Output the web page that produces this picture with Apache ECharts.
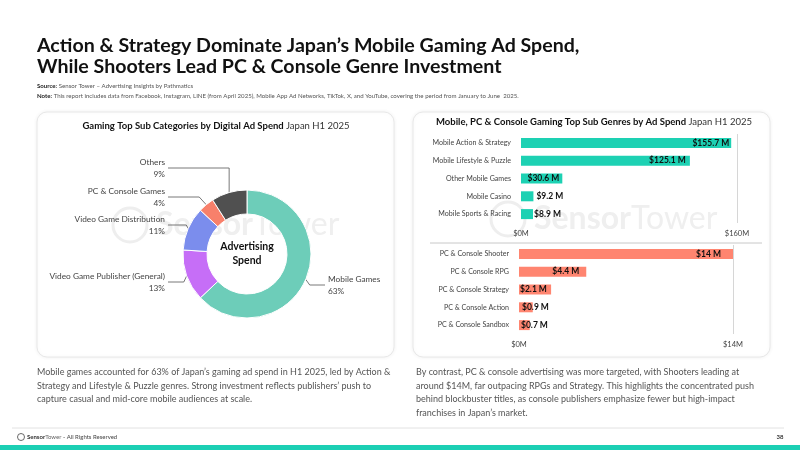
<!DOCTYPE html>
<html>
<head>
<meta charset="utf-8">
<script src="https://cdn.jsdelivr.net/npm/echarts@6/dist/echarts.min.js"></script>
<style>
  html, body { margin: 0; padding: 0; background: #fff; }
  #main { width: 800px; height: 450px; }
</style>
</head>
<body>
<div id="main"></div>
<script>
  // donut: share of gaming ad spend (%)
  const pieNames = ['Mobile Games', 'Video Game Publisher (General)', 'Video Game Distribution', 'PC & Console Games', 'Others'];
  const pieShares = [63, 13, 11, 4, 9];

  // mobile sub genres ($M)
  const mobileGenres = ['Mobile Action & Strategy', 'Mobile Lifestyle & Puzzle', 'Other Mobile Games', 'Mobile Casino', 'Mobile Sports & Racing'];
  const mobileSpend = [155.7, 125.1, 30.6, 9.2, 8.9];
  const mobileTicks = [0, 160];

  // pc & console sub genres ($M)
  const pcGenres = ['PC & Console Shooter', 'PC & Console RPG', 'PC & Console Strategy', 'PC & Console Action', 'PC & Console Sandbox'];
  const pcSpend = [14, 4.4, 2.1, 0.9, 0.7];
  const pcTicks = [0, 14];

  const FONT = 'Lato, "Noto Sans", sans-serif';
  const pieColors = ['#6dcdb9', '#c66ef7', '#7b8ded', '#f8806b', '#505050'];

  // label placement: [x, y, align, elbow dx]
  const pieLabelPos = [
    [328, 285, 'left', 4],
    [165, 282, 'right', -3],
    [165, 225, 'right', -2],
    [165, 197, 'right', -7],
    [165, 168, 'right', 0]
  ];
  const mobileLabelPos = [['insideRight', 2], ['insideRight', 4], ['insideRight', 3], ['right', 3], ['right', 1]];
  const pcLabelPos = [['insideRight', 12], ['insideRight', 7], ['insideLeft', 1], ['insideLeft', 3], ['insideLeft', 2]];

  const chart = echarts.init(document.getElementById('main'));

  function txt(x, y, text, style, extra) {
    return Object.assign({
      type: 'text', x: x, y: y, z: 5,
      style: Object.assign({ text: text, fontFamily: FONT, fill: '#333', fontSize: 9, verticalAlign: 'middle' }, style)
    }, extra || {});
  }

  function watermark(x, y) {
    return [
      { type: 'circle', z: -5, silent: true, shape: { cx: x, cy: y, r: 17 }, style: { fill: 'none', stroke: '#eeeeee', lineWidth: 3 } },
      { type: 'text', z: -5, silent: true, x: x + 26, y: y, style: {
        text: '{b|Sensor}{n|Tower}', verticalAlign: 'middle',
        rich: {
          b: { fontFamily: FONT, fontWeight: 'bold', fontSize: 32, fill: '#efefef' },
          n: { fontFamily: FONT, fontSize: 32, fill: '#efefef' }
        }
      } }
    ];
  }

  const option = {
    animation: false,
    backgroundColor: '#fff',
    graphic: [
      // panels
      { type: 'rect', z: -10, shape: { x: 37, y: 112, width: 357, height: 245, r: 10 },
        style: { fill: '#fff', stroke: '#e8e8e8', lineWidth: 1, shadowBlur: 4, shadowColor: 'rgba(0,0,0,0.06)' } },
      { type: 'rect', z: -10, shape: { x: 413, y: 112, width: 357, height: 245, r: 10 },
        style: { fill: '#fff', stroke: '#e8e8e8', lineWidth: 1, shadowBlur: 4, shadowColor: 'rgba(0,0,0,0.06)' } },
      ...watermark(130, 225),
      ...watermark(508, 219),
      // header
      txt(37, 46, 'Action & Strategy Dominate Japan\u2019s Mobile Gaming Ad Spend,', { fontSize: 19.6, fontWeight: 'bold', fill: '#111' }),
      txt(37, 67, 'While Shooters Lead PC & Console Genre Investment', { fontSize: 19.6, fontWeight: 'bold', fill: '#111' }),
      txt(37, 86, '{b|Source:} Sensor Tower \u2013 Advertising Insights by Pathmatics', {
        rich: { b: { fontFamily: FONT, fontWeight: 'bold', fontSize: 6.1, fill: '#222' } }, fontSize: 6.1, fill: '#555' }),
      txt(37, 96, '{b|Note:} This report includes data from Facebook, Instagram, LINE (from April 2025), Mobile App Ad Networks, TikTok, X, and YouTube, covering the period from January to June  2025.', {
        rich: { b: { fontFamily: FONT, fontWeight: 'bold', fontSize: 6.1, fill: '#222' } }, fontSize: 6.1, fill: '#555' }),
      // panel titles
      txt(216, 126, '{b|Gaming Top Sub Categories by Digital Ad Spend} {n|Japan H1 2025}', {
        align: 'center',
        rich: {
          b: { fontFamily: FONT, fontWeight: 'bold', fontSize: 9.5, fill: '#111' },
          n: { fontFamily: FONT, fontSize: 9.5, fill: '#333' }
        } }),
      txt(594, 122, '{b|Mobile, PC & Console Gaming Top Sub Genres by Ad Spend} {n|Japan H1 2025}', {
        align: 'center',
        rich: {
          b: { fontFamily: FONT, fontWeight: 'bold', fontSize: 9.5, fill: '#111' },
          n: { fontFamily: FONT, fontSize: 9.5, fill: '#333' }
        } }),
      // donut center
      txt(247, 254, 'Advertising\nSpend', { align: 'center', fontWeight: 'bold', fontSize: 10.5, lineHeight: 14, fill: '#111' }),
      // separator between the two bar charts
      { type: 'line', z: 5, shape: { x1: 430, y1: 243, x2: 762, y2: 243 }, style: { stroke: '#c8c8c8', lineWidth: 1 } },
      // commentary
      txt(37, 365, 'Mobile games accounted for 63% of Japan\u2019s gaming ad spend in H1 2025, led by Action &\nStrategy and Lifestyle & Puzzle genres. Strong investment reflects publishers\u2019 push to\ncapture casual and mid-core mobile audiences at scale.', {
        verticalAlign: 'top', fontSize: 9, lineHeight: 13.8, fill: '#555' }),
      txt(416, 365, 'By contrast, PC & console advertising was more targeted, with Shooters leading at\naround $14M, far outpacing RPGs and Strategy. This highlights the concentrated push\nbehind blockbuster titles, as console publishers emphasize fewer but high-impact\nfranchises in Japan\u2019s market.', {
        verticalAlign: 'top', fontSize: 9, lineHeight: 13.8, fill: '#555' }),
      // footer
      { type: 'line', z: 5, shape: { x1: 12, y1: 428, x2: 784, y2: 428 }, style: { stroke: '#e2e2e2', lineWidth: 1 } },
      { type: 'circle', z: 5, shape: { cx: 21, cy: 437, r: 3.5 }, style: { fill: 'none', stroke: '#444', lineWidth: 0.8 } },
      txt(27, 437, '{b|Sensor}{n|Tower} - All Rights Reserved', {
        fontSize: 6, fill: '#444',
        rich: {
          b: { fontFamily: FONT, fontWeight: 'bold', fontSize: 6, fill: '#333' },
          n: { fontFamily: FONT, fontSize: 6, fill: '#666' }
        } }),
      txt(780, 437, '38', { align: 'center', fontSize: 6, fontWeight: 'bold', fill: '#333' }),
      { type: 'rect', z: 5, shape: { x: 0, y: 445, width: 800, height: 5 }, style: { fill: '#1ccfb4' } }
    ],
    grid: [
      { left: 521, top: 134, width: 216, height: 89 },
      { left: 519, top: 245, width: 214, height: 89 }
    ],
    xAxis: [
      { gridIndex: 0, type: 'value', min: mobileTicks[0], max: mobileTicks[1], interval: mobileTicks[1] - mobileTicks[0],
        axisLine: { show: false }, axisTick: { show: false },
        axisLabel: { formatter: v => '$' + v + 'M', fontFamily: FONT, fontSize: 7.5, color: '#444', margin: 7 },
        splitLine: { show: true, showMinLine: false, lineStyle: { color: '#d6d6d6', width: 1 } } },
      { gridIndex: 1, type: 'value', min: pcTicks[0], max: pcTicks[1], interval: pcTicks[1] - pcTicks[0],
        axisLine: { show: false }, axisTick: { show: false },
        axisLabel: { formatter: v => '$' + v + 'M', fontFamily: FONT, fontSize: 7.5, color: '#444', margin: 7 },
        splitLine: { show: true, showMinLine: false, lineStyle: { color: '#d6d6d6', width: 1 } } }
    ],
    yAxis: [
      { gridIndex: 0, type: 'category', data: mobileGenres, inverse: true,
        axisLine: { show: false }, axisTick: { show: false },
        axisLabel: { fontFamily: FONT, fontSize: 7.1, color: '#444', margin: 10 } },
      { gridIndex: 1, type: 'category', data: pcGenres, inverse: true,
        axisLine: { show: false }, axisTick: { show: false },
        axisLabel: { fontFamily: FONT, fontSize: 7.1, color: '#444', margin: 10 } }
    ],
    series: [
      {
        type: 'pie',
        center: [247, 254],
        radius: [40, 64],
        startAngle: 90,
        clockwise: true,
        avoidLabelOverlap: false,
        itemStyle: { borderColor: '#fff', borderWidth: 1 },
        label: {
          formatter: '{b}\n{c}%',
          fontFamily: FONT, fontSize: 8.3, lineHeight: 12, color: '#444'
        },
        labelLine: { show: true, lineStyle: { color: '#555', width: 0.8 } },
        labelLayout: function (p) {
          const a = pieLabelPos[p.dataIndex];
          const pts = p.labelLinePoints;
          const res = { x: a[0], y: a[1], align: a[2], verticalAlign: 'middle' };
          if (pts && pts.length) {
            const s = pts[0];
            const endX = a[2] === 'left' ? a[0] - 3 : a[0] + 3;
            res.labelLinePoints = [s, [s[0] + a[3], a[1]], [endX, a[1]]];
          }
          return res;
        },
        data: pieNames.map((n, i) => ({ name: n, value: pieShares[i], itemStyle: { color: pieColors[i] } }))
      },
      {
        type: 'bar', xAxisIndex: 0, yAxisIndex: 0, barWidth: 10,
        itemStyle: { color: '#1dd1b3' },
        label: { show: true, formatter: '${c} M', fontFamily: FONT, fontWeight: 'bold', fontSize: 8.5, color: '#111' },
        data: mobileSpend.map((v, i) => ({ value: v, label: { position: mobileLabelPos[i][0], distance: mobileLabelPos[i][1] } }))
      },
      {
        type: 'bar', xAxisIndex: 1, yAxisIndex: 1, barWidth: 10,
        itemStyle: { color: '#ff8570' },
        label: { show: true, formatter: '${c} M', fontFamily: FONT, fontWeight: 'bold', fontSize: 8.5, color: '#111' },
        data: pcSpend.map((v, i) => ({ value: v, label: { position: pcLabelPos[i][0], distance: pcLabelPos[i][1] } }))
      }
    ]
  };

  chart.setOption(option);
</script>
</body>
</html>
